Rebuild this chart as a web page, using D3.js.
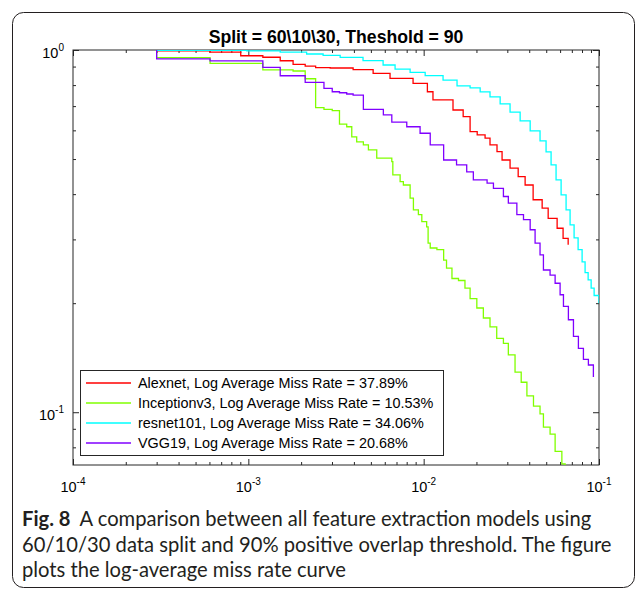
<!DOCTYPE html>
<html>
<head>
<meta charset="utf-8">
<script src="https://cdn.jsdelivr.net/npm/d3@7"></script>
<style>
  body { margin: 0; background: #fff; }
  svg { display: block; }
</style>
</head>
<body>
<svg id="chart" width="637" height="590"></svg>
<script>
// series: false positives per image vs. miss rate (stair curves)
const fppiAlexnet = [3.0e-4, 6.05e-4, 9.05e-4, 1.21e-3, 1.52e-3, 1.80e-3, 2.11e-3, 2.42e-3, 2.93e-3, 3.96e-3, 5.15e-3, 6.43e-3, 8.70e-3, 1.05e-2, 1.13e-2, 1.47e-2, 1.68e-2, 1.84e-2, 2.02e-2, 2.24e-2, 2.39e-2, 2.62e-2, 2.80e-2, 3.11e-2, 3.46e-2, 3.79e-2, 4.21e-2, 4.74e-2, 5.13e-2, 5.77e-2, 6.24e-2, 6.67e-2];
const missAlexnet = [0.994, 0.986, 0.964, 0.955, 0.934, 0.913, 0.903, 0.894, 0.892, 0.883, 0.862, 0.835, 0.809, 0.767, 0.728, 0.683, 0.655, 0.595, 0.583, 0.571, 0.547, 0.524, 0.497, 0.472, 0.447, 0.424, 0.386, 0.366, 0.343, 0.322, 0.302, 0.290];

const fppiInception = [3.0e-4, 3.0e-4, 6.05e-4, 1.21e-3, 1.80e-3, 2.11e-3, 2.42e-3, 2.70e-3, 3.01e-3, 3.31e-3, 3.64e-3, 3.89e-3, 4.15e-3, 4.53e-3, 4.84e-3, 5.40e-3, 6.58e-3, 6.67e-3, 7.34e-3, 7.66e-3, 8.37e-3, 8.74e-3, 9.33e-3, 9.76e-3, 1.04e-2, 1.06e-2, 1.09e-2, 1.19e-2, 1.30e-2, 1.35e-2, 1.45e-2, 1.58e-2, 1.72e-2, 1.84e-2, 2.01e-2, 2.19e-2, 2.39e-2, 2.61e-2, 2.85e-2, 3.04e-2, 3.32e-2, 3.60e-2, 3.88e-2, 4.23e-2, 4.61e-2, 4.82e-2, 5.26e-2, 5.62e-2, 6.14e-2, 6.41e-2];
const missInception = [1.0, 0.952, 0.919, 0.881, 0.875, 0.833, 0.693, 0.686, 0.680, 0.624, 0.614, 0.576, 0.558, 0.547, 0.530, 0.503, 0.492, 0.452, 0.433, 0.424, 0.390, 0.362, 0.351, 0.336, 0.325, 0.293, 0.284, 0.281, 0.263, 0.250, 0.234, 0.231, 0.220, 0.206, 0.194, 0.182, 0.172, 0.160, 0.155, 0.144, 0.129, 0.121, 0.111, 0.104, 0.099, 0.091, 0.087, 0.078, 0.072, 0.066];

const fppiResnet = [3.0e-4, 9.8e-4, 1.52e-3, 2.15e-3, 2.67e-3, 3.34e-3, 4.51e-3, 5.87e-3, 6.87e-3, 8.37e-3, 1.02e-2, 1.29e-2, 1.55e-2, 1.84e-2, 2.10e-2, 2.39e-2, 2.73e-2, 3.11e-2, 3.55e-2, 4.05e-2, 4.61e-2, 4.99e-2, 5.33e-2, 5.69e-2, 6.08e-2, 6.49e-2, 6.84e-2, 7.21e-2, 7.60e-2, 8.01e-2, 8.33e-2, 8.67e-2, 9.02e-2, 9.38e-2, 1.0e-1];
const missResnet = [0.998, 0.995, 0.986, 0.975, 0.966, 0.954, 0.935, 0.909, 0.886, 0.867, 0.850, 0.826, 0.796, 0.786, 0.766, 0.742, 0.710, 0.674, 0.637, 0.598, 0.561, 0.523, 0.482, 0.438, 0.398, 0.362, 0.329, 0.303, 0.281, 0.260, 0.243, 0.232, 0.220, 0.210, 0.200];

const fppiVgg = [3.0e-4, 3.0e-4, 6.05e-4, 1.21e-3, 1.52e-3, 2.11e-3, 2.70e-3, 3.01e-3, 3.31e-3, 3.64e-3, 3.96e-3, 4.53e-3, 5.89e-3, 6.58e-3, 8.01e-3, 9.54e-3, 1.09e-2, 1.30e-2, 1.54e-2, 1.76e-2, 1.92e-2, 2.30e-2, 2.50e-2, 2.85e-2, 3.04e-2, 3.40e-2, 3.71e-2, 4.05e-2, 4.32e-2, 4.61e-2, 4.82e-2, 5.26e-2, 5.62e-2, 6.00e-2, 6.27e-2, 6.69e-2, 7.15e-2, 7.63e-2, 8.15e-2, 8.70e-2, 9.29e-2];
const missVgg = [1.0, 0.945, 0.933, 0.896, 0.849, 0.814, 0.784, 0.767, 0.762, 0.756, 0.751, 0.686, 0.662, 0.632, 0.614, 0.589, 0.547, 0.497, 0.482, 0.461, 0.438, 0.429, 0.415, 0.394, 0.378, 0.351, 0.340, 0.319, 0.293, 0.272, 0.247, 0.239, 0.227, 0.211, 0.196, 0.180, 0.162, 0.150, 0.140, 0.135, 0.125];

const seriesNames = ["Alexnet", "Inceptionv3", "resnet101", "VGG19"];
const seriesRates = ["37.89%", "10.53%", "34.06%", "20.68%"];
const seriesColors = ["#ff0000", "#80ff00", "#00ffff", "#8000ff"];

const xTickValues = [1e-4, 1e-3, 1e-2, 1e-1];
const xTickExps = ["-4", "-3", "-2", "-1"];
const yTickValues = [0.1, 1];
const yTickExps = ["-1", "0"];

const titleText = "Split = 60\\10\\30, Theshold = 90";
const captionLead = "Fig. 8";
const captionLines = [
	"A comparison between all feature extraction models using",
	"60/10/30 data split and 90% positive overlap threshold. The figure",
	"plots the log-average miss rate curve"
];

const svg = d3.select("#chart");
const plot = {left: 73, right: 599, top: 50, bottom: 465};
const axisColor = "#262626";
const fontAxis = "'Liberation Sans', Arial, Helvetica, sans-serif";

const x = d3.scaleLog().domain([1e-4, 1e-1]).range([plot.left, plot.right]);
const y = d3.scaleLog().domain([0.0715, 1]).range([plot.bottom, plot.top]);

/* scale a text's font size so it spans the given width */
function fitWidth(sel, target) {
	const w = sel.node().getComputedTextLength();
	const fs = parseFloat(sel.attr("font-size"));
	sel.attr("font-size", fs * target / w);
	return fs * target / w;
}

// outer figure frame (rounded box around chart and caption)
svg.append("rect")
	.attr("x", 12.5).attr("y", 12.5)
	.attr("width", 622).attr("height", 575)
	.attr("rx", 11)
	.attr("fill", "none")
	.attr("stroke", "#231f20")
	.attr("stroke-width", 1);

// clip for curves
svg.append("clipPath").attr("id", "plot-clip")
	.append("rect")
	.attr("x", plot.left).attr("y", plot.top)
	.attr("width", plot.right - plot.left)
	.attr("height", plot.bottom - plot.top);

// ticks on all four sides, pointing inward
const minorX = x.ticks().filter(v => !xTickValues.some(t => Math.abs(t - v) / t < 1e-6));
const minorY = y.ticks().filter(v => !yTickValues.some(t => Math.abs(t - v) / t < 1e-6));

function drawAxis(axisFn, scale, transform) {
	[[minorX, minorY, 3], [xTickValues, yTickValues, 6]].forEach(([vx, vy, len]) => {
		const isX = (axisFn === d3.axisBottom || axisFn === d3.axisTop);
		const g = svg.append("g")
			.attr("transform", transform)
			.call(axisFn(scale).tickValues(isX ? vx : vy).tickSize(-len).tickFormat(""));
		g.select(".domain").remove();
		g.selectAll("line").attr("stroke", axisColor);
	});
}
drawAxis(d3.axisBottom, x, `translate(0,${plot.bottom})`);
drawAxis(d3.axisTop, x, `translate(0,${plot.top})`);
drawAxis(d3.axisLeft, y, `translate(${plot.left},0)`);
drawAxis(d3.axisRight, y, `translate(${plot.right},0)`);

// plot box
svg.append("rect")
	.attr("x", plot.left).attr("y", plot.top)
	.attr("width", plot.right - plot.left)
	.attr("height", plot.bottom - plot.top)
	.attr("fill", "none")
	.attr("stroke", axisColor)
	.attr("stroke-width", 1);

// tick labels, 10 with superscript exponent
xTickValues.forEach((v, i) => {
	const t = svg.append("text")
		.attr("x", x(v)).attr("y", plot.bottom + 27)
		.attr("text-anchor", "middle")
		.attr("font-family", fontAxis)
		.attr("font-size", 14.5)
		.attr("fill", "#000")
		.text("10");
	t.append("tspan").attr("dy", -7).attr("font-size", 10).text(xTickExps[i]);
});
yTickValues.forEach((v, i) => {
	const t = svg.append("text")
		.attr("x", plot.left - 9).attr("y", y(v) + 8)
		.attr("text-anchor", "end")
		.attr("font-family", fontAxis)
		.attr("font-size", 14.5)
		.attr("fill", "#000")
		.text("10");
	t.append("tspan").attr("dy", -7).attr("font-size", 10).text(yTickExps[i]);
});

// curves
const allFppi = [fppiAlexnet, fppiInception, fppiResnet, fppiVgg];
const allMiss = [missAlexnet, missInception, missResnet, missVgg];
const line = d3.line()
	.x(d => x(d[0]))
	.y(d => y(d[1]))
	.curve(d3.curveStepAfter);

const curves = svg.append("g").attr("clip-path", "url(#plot-clip)");
allFppi.forEach((fp, i) => {
	curves.append("path")
		.datum(d3.zip(fp, allMiss[i]))
		.attr("d", line)
		.attr("fill", "none")
		.attr("stroke", seriesColors[i])
		.attr("stroke-width", 1.3);
});

// title
const title = svg.append("text")
	.attr("x", (plot.left + plot.right) / 2).attr("y", 43)
	.attr("text-anchor", "middle")
	.attr("font-family", fontAxis)
	.attr("font-weight", "bold")
	.attr("font-size", 17)
	.attr("fill", "#000")
	.text(titleText);
fitWidth(title, 255);

// legend
const legend = svg.append("g");
legend.append("rect")
	.attr("x", 80.5).attr("y", 370.5)
	.attr("width", 363).attr("height", 85)
	.attr("fill", "#fff")
	.attr("stroke", axisColor);
seriesNames.forEach((name, i) => {
	const ly = 383 + i * 20;
	legend.append("line")
		.attr("x1", 86).attr("x2", 131)
		.attr("y1", ly).attr("y2", ly)
		.attr("stroke", seriesColors[i])
		.attr("stroke-width", 1.3);
	legend.append("text")
		.attr("x", 138).attr("y", ly + 5)
		.attr("font-family", fontAxis)
		.attr("font-size", 14.4)
		.attr("fill", "#000")
		.text(`${name}, Log Average Miss Rate = ${seriesRates[i]}`);
});

// caption
const capFont = "Lato, 'Open Sans', sans-serif";
const capY = [526, 552, 577];
const cap = captionLines.map((txt, i) => {
	const t = svg.append("text")
		.attr("x", 22).attr("y", capY[i])
		.attr("font-family", capFont)
		.attr("font-size", 18)
		.attr("fill", "#231f20");
	if (i === 0) {
		t.append("tspan").attr("font-weight", "bold").text(captionLead);
		t.append("tspan").attr("dx", 9).text(txt);
	} else {
		t.text(txt);
	}
	return t;
});
const capSize = fitWidth(cap[1], 590);
cap.forEach(t => t.attr("font-size", capSize));
</script>
</body>
</html>
